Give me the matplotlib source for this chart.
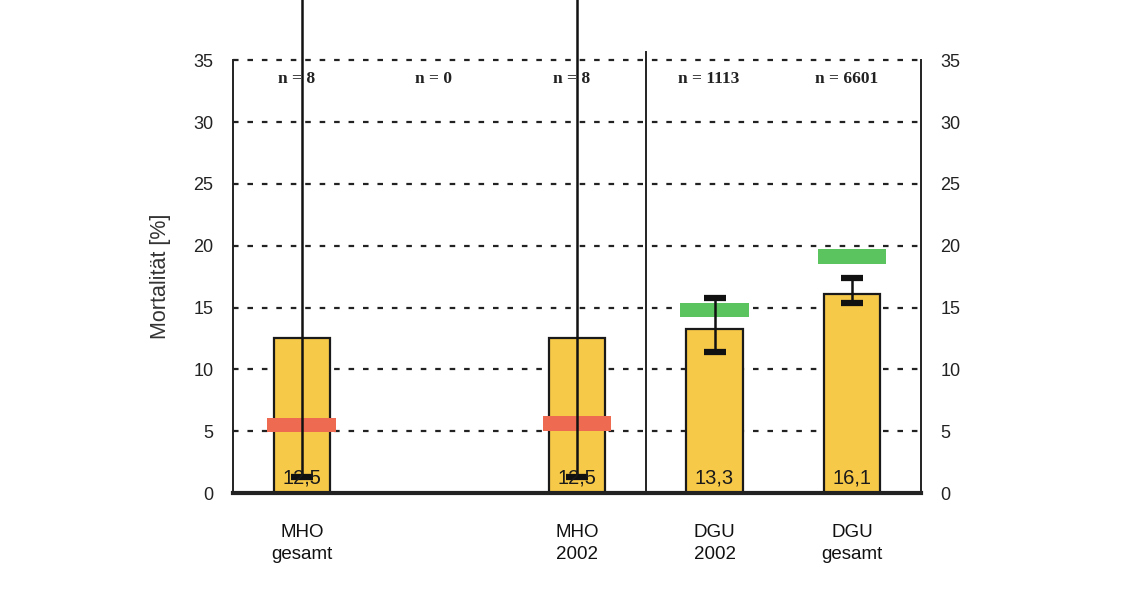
import numpy as np
import matplotlib
matplotlib.use("Agg")
import matplotlib.pyplot as plt

# categories (slot 1 is empty, n = 0)
groups = ["MHO\ngesamt", "", "MHO\n2002", "DGU\n2002", "DGU\ngesamt"]
n_labels = ["n = 8", "n = 0", "n = 8", "n = 1113", "n = 6601"]
mortality = [12.5, np.nan, 12.5, 13.3, 16.1]
value_text = ["12,5", "", "12,5", "13,3", "16,1"]
ci_low = [1.3, np.nan, 1.3, 11.4, 15.4]
ci_high = [53.0, np.nan, 53.0, 15.8, 17.4]
# expected mortality markers
expected = [5.5, np.nan, 5.6, 14.8, 19.1]
expected_col = ["#EE6A50", None, "#EE6A50", "#5CC45E", "#5CC45E"]

plt.rcParams['font.family'] = ['Liberation Sans', 'DejaVu Sans']

fig = plt.figure(figsize=(11.23, 5.96), dpi=100)
ax = fig.add_axes([0.2075, 0.1728, 0.6125, 0.7262])

x = np.arange(len(groups))
ax.set_xlim(-0.5, 4.5)
ax.set_ylim(0, 35)

# dashed grid
for yv in range(5, 36, 5):
    ax.axhline(yv, color="#222222", lw=1.6, ls=(0, (2.5, 4)), zorder=0, clip_on=False)

bars_x = [xi for xi, m in zip(x, mortality) if not np.isnan(m)]
bars_y = [m for m in mortality if not np.isnan(m)]
ax.bar(bars_x, bars_y, width=0.41, color="#F7C948", edgecolor="#1a1a1a", lw=1.6, zorder=2)

for xi, m, lo, hi, ev, ec, vt in zip(x, mortality, ci_low, ci_high, expected, expected_col, value_text):
    if np.isnan(m):
        continue
    ax.bar(xi, 1.2, bottom=ev - 0.6, width=0.5, color=ec, lw=0, zorder=3)
    ax.errorbar(xi, m, yerr=[[m - lo], [hi - m]], fmt="none", ecolor="#111111",
                elinewidth=1.8, capsize=8, capthick=4.5, zorder=4, clip_on=False)
    ax.text(xi, 1.2, vt, ha="center", va="center", fontsize=14.5, color="#1a1a1a", zorder=5)

for xi, nl in zip(x, n_labels):
    ax.text(xi - 0.04, 33.5, nl, ha="center", va="center", fontsize=12.5,
            fontweight="bold", family=["Liberation Serif", "DejaVu Serif"], color="#222222")

# separator between MHO and DGU
ax.axvline(2.5, ymin=0, ymax=1.02, color="#222222", lw=1.4, clip_on=False, zorder=1)

ax.spines["top"].set_visible(False)
ax.spines["left"].set_linewidth(1.4)
ax.spines["right"].set_linewidth(1.4)
ax.spines["bottom"].set_linewidth(3)
for s in ax.spines.values():
    s.set_color("#222222")

ax.set_yticks(range(0, 36, 5))
ax.tick_params(axis="y", length=0, pad=14, labelsize=13, colors="#222222",
               labelright=True, right=True)
ax.set_xticks([xi for xi, g in zip(x, groups) if g])
ax.set_xticklabels([g for g in groups if g], fontsize=13.5, linespacing=1.45)
ax.tick_params(axis="x", length=0, pad=22, colors="#111111")
ax.set_ylabel("Mortalität [%]", fontsize=15.5, color="#333333", labelpad=16)

fig.savefig("out.png", dpi=100)
